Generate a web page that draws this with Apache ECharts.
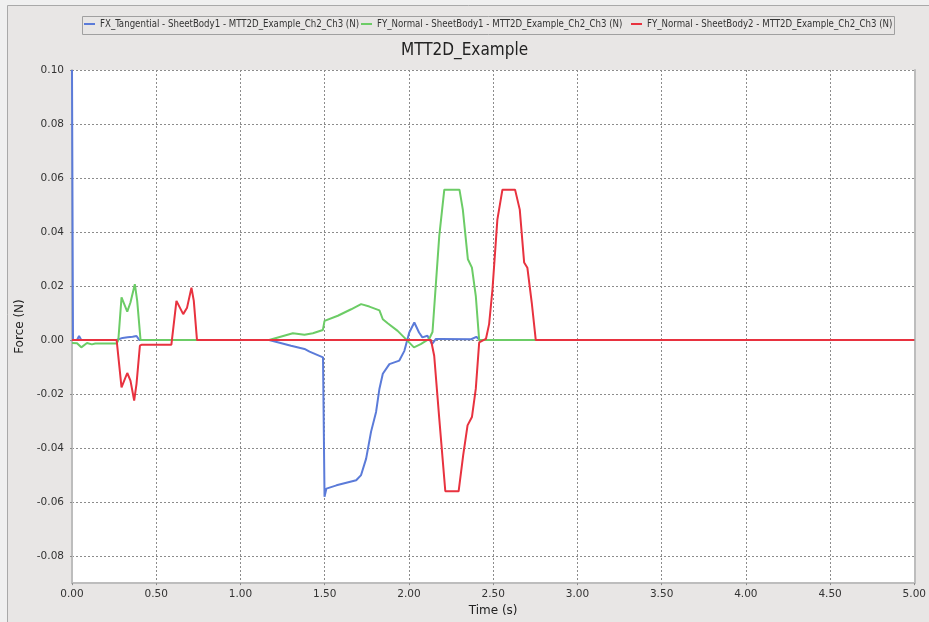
<!DOCTYPE html>
<html>
<head>
<meta charset="utf-8">
<script src="https://cdn.jsdelivr.net/npm/echarts@6/dist/echarts.min.js"></script>
<style>
  html, body { margin: 0; padding: 0; background: #f0f0f0; }
  #chart { width: 929px; height: 622px; }
</style>
</head>
<body>
<div id="chart"></div>
<script>
// series names
const fxName = 'FX_Tangential - SheetBody1 - MTT2D_Example_Ch2_Ch3 (N)';
const fy1Name = 'FY_Normal - SheetBody1 - MTT2D_Example_Ch2_Ch3 (N)';
const fy2Name = 'FY_Normal - SheetBody2 - MTT2D_Example_Ch2_Ch3 (N)';

// FX_Tangential, SheetBody1 (time s, force N)
const fxTime = [0, 0.006, 0.03, 0.042, 0.055, 0.265, 0.30, 0.33, 0.36, 0.383, 0.40, 1.17, 1.30, 1.38, 1.41, 1.49, 1.494, 1.499, 1.51, 1.57, 1.687, 1.716, 1.746, 1.775, 1.805, 1.825, 1.845, 1.884, 1.943, 1.973, 2.002, 2.032, 2.06, 2.08, 2.11, 2.137, 2.16, 2.19, 2.37, 2.40, 2.42, 5.0];
const fxForce = [0.1, 0, 0, 0.0015, 0, 0, 0.0008, 0.001, 0.0012, 0.0015, 0, 0, -0.0021, -0.0033, -0.0043, -0.0064, -0.0068, -0.058, -0.055, -0.0538, -0.0519, -0.050, -0.0439, -0.034, -0.0266, -0.018, -0.0125, -0.0089, -0.0076, -0.004, 0.0028, 0.0065, 0.0028, 0.001, 0.0016, -0.0015, 0.0004, 0.0004, 0.0003, 0.0012, 0, 0];

// FY_Normal, SheetBody1
const fy1Time = [0, 0.03, 0.055, 0.089, 0.118, 0.138, 0.265, 0.275, 0.294, 0.328, 0.347, 0.373, 0.387, 0.407, 1.17, 1.311, 1.38, 1.43, 1.489, 1.499, 1.578, 1.657, 1.716, 1.765, 1.825, 1.845, 1.874, 1.933, 1.992, 2.03, 2.07, 2.12, 2.14, 2.18, 2.21, 2.30, 2.32, 2.35, 2.374, 2.397, 2.417, 5.0];
const fy1Force = [-0.0011, -0.0012, -0.0027, -0.0011, -0.0016, -0.0013, -0.0013, 0, 0.0158, 0.0105, 0.0139, 0.0207, 0.0145, 0, 0, 0.0025, 0.002, 0.0025, 0.0037, 0.0071, 0.009, 0.0114, 0.0133, 0.0124, 0.011, 0.0077, 0.0062, 0.0034, -0.0003, -0.0027, -0.0015, 0.0004, 0.003, 0.0385, 0.0557, 0.0557, 0.0483, 0.0299, 0.0268, 0.0163, 0, 0];

// FY_Normal, SheetBody2
const fy2Time = [0, 0.265, 0.294, 0.328, 0.347, 0.369, 0.383, 0.403, 0.415, 0.59, 0.62, 0.66, 0.683, 0.709, 0.723, 0.742, 2.131, 2.15, 2.18, 2.216, 2.295, 2.322, 2.348, 2.374, 2.397, 2.417, 2.457, 2.476, 2.496, 2.525, 2.555, 2.63, 2.658, 2.684, 2.703, 2.729, 2.753, 5.0];
const fy2Force = [0, 0, -0.0175, -0.0122, -0.015, -0.0224, -0.0162, -0.0021, -0.0017, -0.0017, 0.0145, 0.0096, 0.012, 0.0194, 0.0145, 0, 0, -0.0058, -0.029, -0.056, -0.056, -0.0427, -0.0316, -0.0285, -0.018, -0.0009, 0.0004, 0.0059, 0.0188, 0.0446, 0.0557, 0.0557, 0.0483, 0.0287, 0.0268, 0.0139, 0, 0];

const zip = (ts, vs) => ts.map((t, i) => [t, vs[i]]);

const chart = echarts.init(document.getElementById('chart'), null, { renderer: 'canvas' });

const labelFont = { fontFamily: 'DejaVu Sans', fontSize: 10.5, color: '#333' };
const gridLine = { show: true, lineStyle: { color: '#8c8c8c', width: 1, type: [2, 2] } };

const legendText = { fontFamily: 'DejaVu Sans Condensed', fontSize: 9.6, color: '#333' };
function legendAt(left, name) {
  return {
    left: left, top: 19, padding: 0, itemWidth: 11, itemHeight: 2, icon: 'rect', itemGap: 0,
    textStyle: legendText, data: [name], selectedMode: false
  };
}

const option = {
  backgroundColor: '#f0f0f0',
  animation: false,
  graphic: [
    { type: 'rect', z: -10, shape: { x: 7.5, y: 5.5, width: 940, height: 640 },
      style: { fill: '#e8e6e5', stroke: '#a9a9a9', lineWidth: 1 } },
    { type: 'rect', z: -5, shape: { x: 82.5, y: 16.5, width: 812, height: 18 },
      style: { fill: '#e8e6e5', stroke: '#a0a0a0', lineWidth: 1 } }
  ],
  title: {
    text: 'MTT2D_Example', left: 'center', top: 37,
    textStyle: { fontFamily: 'DejaVu Sans Condensed', fontSize: 17, fontWeight: 'normal', color: '#222' }
  },
  legend: [legendAt(84, fxName), legendAt(361, fy1Name), legendAt(631, fy2Name)],
  grid: { left: 72, right: 12, top: 70, bottom: 38, show: true, backgroundColor: '#fff', borderWidth: 0 },
  xAxis: {
    type: 'value', min: 0, max: 5, interval: 0.5,
    name: 'Time (s)', nameLocation: 'middle', nameGap: 17,
    nameTextStyle: { fontFamily: 'DejaVu Sans', fontSize: 12, color: '#222' },
    axisLine: { show: true, onZero: false, lineStyle: { color: '#bdbdbd', width: 2 } },
    axisTick: { show: true, length: 4, lineStyle: { color: '#8c8c8c', type: [2, 2] } },
    axisLabel: Object.assign({ margin: 6, formatter: v => v.toFixed(2) }, labelFont),
    splitLine: gridLine
  },
  yAxis: [{
    type: 'value', min: -0.09, max: 0.1, splitNumber: 10, minInterval: 0.02, maxInterval: 0.02,
    name: 'Force (N)', nameLocation: 'middle', nameRotate: 90, nameGap: 46,
    nameTextStyle: { fontFamily: 'DejaVu Sans', fontSize: 12, color: '#222' },
    axisLine: { show: true, lineStyle: { color: '#bdbdbd', width: 2 } },
    axisTick: { show: true, length: 4, lineStyle: { color: '#8c8c8c', type: [2, 2] } },
    axisLabel: Object.assign({ margin: 8, showMinLabel: false, formatter: v => v.toFixed(2) }, labelFont),
    splitLine: gridLine
  }, {
    type: 'value', position: 'right', min: 0, max: 1,
    axisLine: { show: true, lineStyle: { color: '#bdbdbd', width: 2 } },
    axisTick: { show: false }, axisLabel: { show: false }, splitLine: { show: false }
  }],
  series: [
    { name: fxName, type: 'line', data: zip(fxTime, fxForce), showSymbol: false, symbol: 'none',
      lineStyle: { width: 2, color: '#5b7bd9' }, itemStyle: { color: '#5b7bd9' } },
    { name: fy1Name, type: 'line', data: zip(fy1Time, fy1Force), showSymbol: false, symbol: 'none',
      lineStyle: { width: 2, color: '#6ccc66' }, itemStyle: { color: '#6ccc66' } },
    { name: fy2Name, type: 'line', data: zip(fy2Time, fy2Force), showSymbol: false, symbol: 'none',
      lineStyle: { width: 2, color: '#e8323f' }, itemStyle: { color: '#e8323f' } }
  ]
};

chart.setOption(option);
</script>
</body>
</html>
